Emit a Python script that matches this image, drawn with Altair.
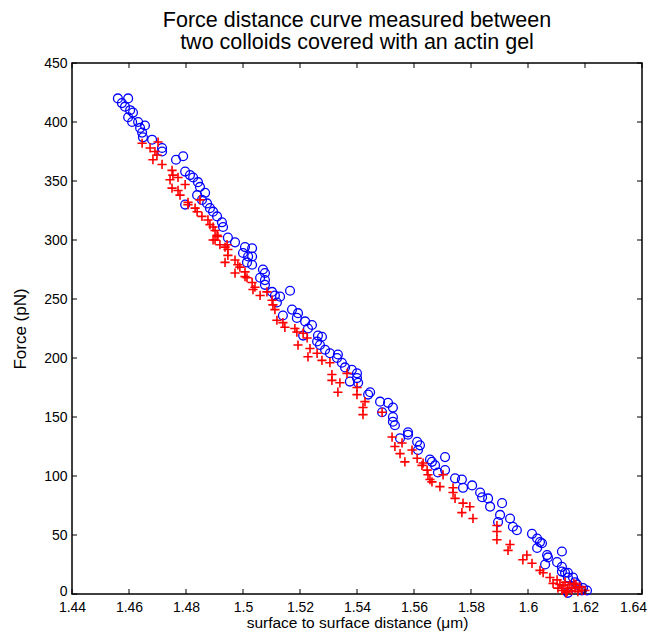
import altair as alt
import pandas as pd

# ---- data ----
# blue open circles
bx = [1.4561, 1.4597, 1.4575, 1.4586, 1.4604, 1.4614, 1.4597, 1.4611, 1.4632, 1.4656,
      1.4639, 1.4646, 1.4649, 1.4681, 1.4716, 1.4716, 1.4765, 1.4790, 1.4797, 1.4814,
      1.4825, 1.4842, 1.4849, 1.4867, 1.4839, 1.4797, 1.4856, 1.4874, 1.4884, 1.4895,
      1.4909, 1.4926, 1.4930, 1.4947, 1.4972, 1.5007, 1.5000, 1.5018, 1.5014, 1.5032,
      1.5070, 1.5077,
      1.5032, 1.5032, 1.5060, 1.5077, 1.5077, 1.5165, 1.5102, 1.5112, 1.5130, 1.5119,
      1.5140, 1.5172, 1.5193, 1.5189, 1.5218, 1.5242, 1.5228, 1.5211, 1.5263, 1.5277,
      1.5260, 1.5270, 1.5288, 1.5305, 1.5333, 1.5330, 1.5347, 1.5358, 1.5382, 1.5400,
      1.5400, 1.5375, 1.5404, 1.5446, 1.5439, 1.5481, 1.5509, 1.5526, 1.5488, 1.5526,
      1.5621, 1.5656, 1.5674, 1.5709, 1.5709, 1.5684, 1.5744, 1.5768, 1.5772, 1.5804,
      1.5832, 1.5839, 1.5860, 1.5867, 1.5909, 1.5902, 1.5937, 1.5947, 1.5961, 1.5895,
      1.6014, 1.6032, 1.6042, 1.6032, 1.6049, 1.6067, 1.6070, 1.6060, 1.6102, 1.6119,
      1.6119, 1.6119, 1.6130, 1.6140, 1.6140, 1.6158, 1.6165, 1.6172, 1.6193, 1.6207,
      1.6189, 1.6140, 1.6154,
      1.5533, 1.5579, 1.5579, 1.5551, 1.5611, 1.5614, 1.5663, 1.5526]
by = [420, 420, 416, 413, 410, 408, 404, 400, 400, 397,
      395, 391, 387, 385, 378, 375, 368, 371, 358, 355,
      353, 349, 345, 340, 338, 330, 334, 331, 327, 324,
      320, 315, 311, 302, 298, 294, 289, 286, 281, 279,
      275, 272,
      293, 286, 268, 266, 262, 257, 256, 253, 252, 247,
      236, 241, 238, 234, 231, 228, 225, 219, 219, 218,
      214, 211, 207, 204, 203, 200, 196, 192, 190, 187,
      183, 180, 179, 171, 169, 163, 162, 158, 154, 150,
      126, 114, 109, 116, 105, 103, 98, 97, 90, 92,
      86, 82, 81, 74, 77, 67, 64, 57, 54, 61,
      51, 47, 44, 39, 43, 33, 31, 25, 27, 36,
      23, 19, 18, 18, 14, 14, 10, 8, 5, 3,
      3, 1, 6,
      143, 137, 135, 132, 129, 122, 112, 146]

# red plus signs
rx = [1.4646, 1.4674, 1.4702, 1.4691, 1.4698, 1.4684, 1.4716, 1.4751, 1.4754, 1.4744,
      1.4772, 1.4751, 1.4772, 1.4779, 1.4807, 1.4807, 1.4797, 1.4832, 1.4839, 1.4849,
      1.4856, 1.4877, 1.4884, 1.4902, 1.4909, 1.4902, 1.4919, 1.4937, 1.4947, 1.4937,
      1.4972, 1.4972, 1.4989, 1.5007,
      1.4895, 1.4912, 1.4895, 1.4944, 1.4947, 1.4982, 1.5007, 1.5014, 1.5032, 1.5042,
      1.5035, 1.5084,
      1.5060, 1.5102, 1.5105, 1.5112, 1.5119, 1.5140, 1.5147, 1.5182, 1.5189, 1.5211,
      1.5225, 1.5193, 1.5235, 1.5228, 1.5260, 1.5277, 1.5305, 1.5312, 1.5312, 1.5340,
      1.5333, 1.5365, 1.5400, 1.5400, 1.5428, 1.5421, 1.5421, 1.5488,
      1.5523, 1.5533, 1.5558, 1.5551, 1.5568, 1.5593, 1.5611, 1.5628, 1.5646, 1.5649,
      1.5656, 1.5691, 1.5702, 1.5737,
      1.5632, 1.5663, 1.5737, 1.5744, 1.5772, 1.5796, 1.5768, 1.5807, 1.5891, 1.5891,
      1.5891, 1.5937, 1.5930, 1.5996, 1.5982, 1.6014, 1.6042, 1.6053, 1.6077, 1.6102,
      1.6088, 1.6112,
      1.6130, 1.6147, 1.6165, 1.6119, 1.6137, 1.6154, 1.6175, 1.6189, 1.6200, 1.6105,
      1.6182, 1.6161, 1.6140, 1.6123, 1.6133, 1.6168]
ry = [382, 378, 383, 375, 372, 368, 364, 359, 355, 351,
      353, 344, 342, 338, 332, 330, 347, 327, 324, 334,
      320, 317, 313, 308, 304, 300, 296, 294, 292, 281,
      283, 272, 277, 269,
      311, 303, 300, 296, 287, 279, 273, 268, 264, 260,
      258, 256,
      253, 249, 245, 241, 232, 230, 226, 225, 222, 221,
      217, 211, 208, 201, 204, 198, 196, 186, 181, 179,
      171, 187, 175, 169, 163, 158, 152, 154,
      133, 125, 128, 119, 112, 122, 115, 109, 105, 101,
      97, 91, 101, 90,
      111, 95, 86, 81, 77, 74, 69, 64, 58, 53,
      46, 42, 37, 33, 29, 26, 20, 18, 14, 12,
      9, 8,
      10, 8, 5, 3, 2, 3, 2, 3, 3, 5,
      6, 9, 5, 7, 1, 8]

x_ticks = [1.44, 1.46, 1.48, 1.5, 1.52, 1.54, 1.56, 1.58, 1.6, 1.62, 1.64]
y_ticks = [0, 50, 100, 150, 200, 250, 300, 350, 400, 450]

title_lines = ["Force distance curve measured between",
               "two colloids covered with an actin gel"]
x_title = "surface to surface distance (μm)"
y_title = "Force (pN)"

# ---- chart ----
FONT = "Liberation Sans"
W, H = 570, 531

blue = pd.DataFrame({"d": bx, "F": by})
red = pd.DataFrame({"d": rx, "F": ry})
tx = pd.DataFrame({"d": x_ticks})
ty = pd.DataFrame({"F": y_ticks})

xs = alt.Scale(domain=[1.44, 1.64], nice=False, zero=False)
ys = alt.Scale(domain=[0, 450], nice=False)

xaxis = alt.Axis(values=x_ticks, format="~g", title=x_title, grid=False,
                 domain=False, ticks=False, labelPadding=6, titlePadding=1,
                 titleFontSize=15.5, labelFlush=False, labelOverlap=False,
                 labelOffset={"condition": {"test": "datum.value > 1.635", "value": -9},
                              "value": 0})
yaxis = alt.Axis(values=y_ticks, format="d", title=y_title, grid=False,
                 domain=False, ticks=False, labelPadding=5, titlePadding=14,
                 titleFontSize=17, labelOverlap=False,
                 labelOffset={"condition": {"test": "datum.value < 1", "value": -3},
                              "value": 0})

X = alt.X("d:Q", scale=xs, axis=xaxis)
Y = alt.Y("F:Q", scale=ys, axis=yaxis)

circles = alt.Chart(blue).mark_point(
    shape="circle", filled=False, color="#0000ff", size=78,
    strokeWidth=1.3, opacity=1
).encode(x=X, y=Y)

pluses = alt.Chart(red).mark_point(
    shape="M-1,0L1,0M0,-1L0,1", filled=False, color="#ff0000", size=85,
    strokeWidth=1.6, opacity=1
).encode(x=X, y=Y)

tick_bottom = alt.Chart(tx).mark_rule(color="black", strokeWidth=1).encode(
    x=X, y=alt.value(H), y2=alt.value(H - 5))
tick_top = alt.Chart(tx).mark_rule(color="black", strokeWidth=1).encode(
    x=X, y=alt.value(0), y2=alt.value(5))
tick_left = alt.Chart(ty).mark_rule(color="black", strokeWidth=1).encode(
    y=Y, x=alt.value(0), x2=alt.value(5))
tick_right = alt.Chart(ty).mark_rule(color="black", strokeWidth=1).encode(
    y=Y, x=alt.value(W), x2=alt.value(W - 5))

chart = alt.layer(
    circles, pluses, tick_bottom, tick_top, tick_left, tick_right
).properties(
    width=W, height=H,
    autosize=alt.AutoSizeParams(type="none"),
    padding={"left": 64, "top": 55, "right": 6, "bottom": 38},
    background="white",
    title=alt.TitleParams(text=title_lines, fontSize=21.5, font=FONT,
                          fontWeight="normal", anchor="middle", offset=3,
                          lineHeight=22, color="black"),
).configure_view(
    stroke="black", strokeWidth=1.5
).configure_axis(
    labelFont=FONT, titleFont=FONT, labelFontSize=14,
    labelColor="black", titleColor="black", titleFontWeight="normal"
)

chart.save("out.html", embed_options={"renderer": "svg", "actions": False})
